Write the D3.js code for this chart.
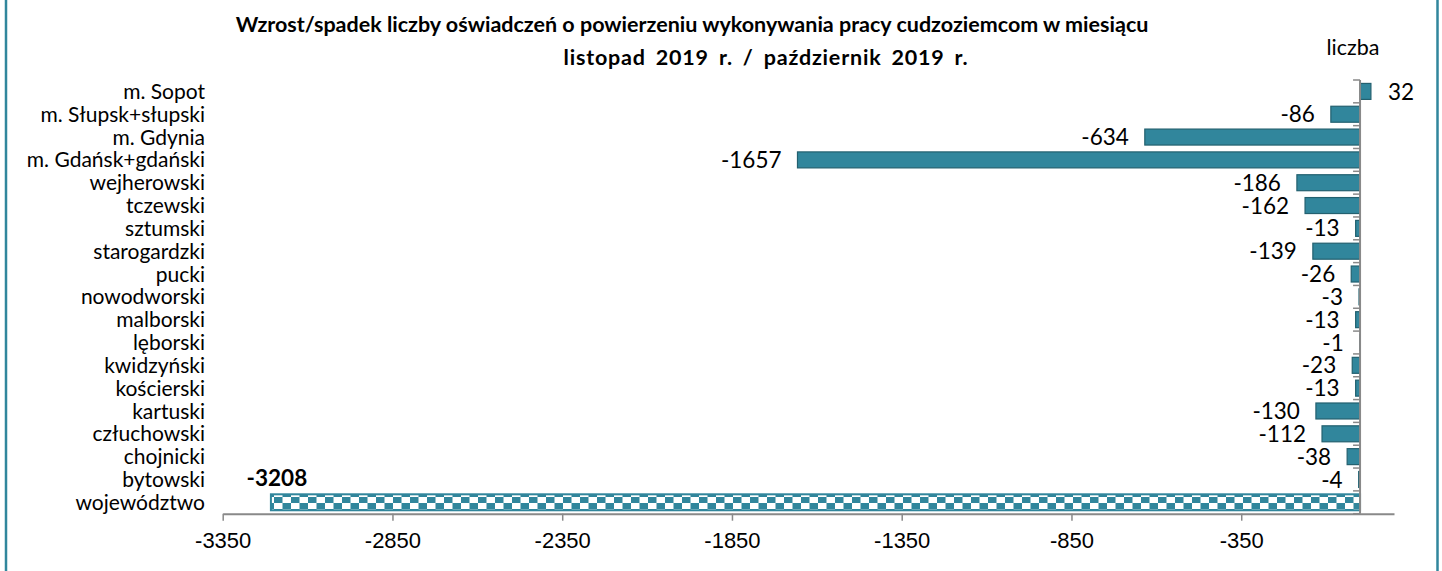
<!DOCTYPE html>
<html>
<head>
<meta charset="utf-8">
<script src="https://cdn.jsdelivr.net/npm/d3@7"></script>
<style>
  body { margin: 0; background: #fff; }
  svg { display: block; font-family: Lato, "Noto Sans", sans-serif; }
</style>
</head>
<body>
<script>
// categories top to bottom, and their values
var categories = ['m. Sopot', 'm. Słupsk+słupski', 'm. Gdynia', 'm. Gdańsk+gdański', 'wejherowski',
	'tczewski', 'sztumski', 'starogardzki', 'pucki', 'nowodworski', 'malborski', 'lęborski',
	'kwidzyński', 'kościerski', 'kartuski', 'człuchowski', 'chojnicki', 'bytowski', 'województwo'];
var values = [32, -86, -634, -1657, -186, -162, -13, -139, -26, -3, -13, -1, -23, -13, -130, -112, -38, -4, -3208];
var tickValues = [-3350, -2850, -2350, -1850, -1350, -850, -350];
var titleLines = ['Wzrost/spadek liczby oświadczeń o powierzeniu wykonywania pracy cudzoziemcom w miesiącu',
	'listopad 2019 r. / październik 2019 r.'];
var totalName = 'województwo';

var width = 1442, height = 571;
var teal = '#31869c', tealDark = '#23606f', axisGray = '#898989';

var svg = d3.select('body').append('svg')
	.attr('width', width)
	.attr('height', height);

// checkerboard pattern for the total bar
var pat = svg.append('defs').append('pattern')
	.attr('id', 'checks')
	.attr('patternUnits', 'userSpaceOnUse')
	.attr('width', 17).attr('height', 12)
	.attr('x', 2).attr('y', 497);
pat.append('rect').attr('width', 17).attr('height', 12).attr('fill', '#fff');
pat.append('rect').attr('x', 0).attr('y', 0).attr('width', 8.5).attr('height', 6).attr('fill', teal);
pat.append('rect').attr('x', 8.5).attr('y', 6).attr('width', 8.5).attr('height', 6).attr('fill', teal);

// frame lines left and right
svg.append('line').attr('x1', 6).attr('x2', 6).attr('y1', 0).attr('y2', height)
	.attr('stroke', teal).attr('stroke-width', 2.5);
svg.append('line').attr('x1', 1437.5).attr('x2', 1437.5).attr('y1', 0).attr('y2', height)
	.attr('stroke', teal).attr('stroke-width', 2.5);

// scales
var x = d3.scaleLinear().domain([-3350, 100]).range([222.7, 1394]);
var y = d3.scaleBand().domain(categories).range([80, 513.7]).paddingInner(0.3).paddingOuter(0.15);

// title
svg.append('text').attr('x', 692).attr('y', 32).attr('text-anchor', 'middle')
	.attr('font-weight', 'bold').attr('font-size', 21.5).text(titleLines[0]);
svg.append('text').attr('x', 766).attr('y', 65).attr('text-anchor', 'middle')
	.attr('font-weight', 'bold').attr('font-size', 21.5)
	.attr('letter-spacing', 0.8).attr('word-spacing', 4).text(titleLines[1]);
svg.append('text').attr('x', 1353).attr('y', 55).attr('text-anchor', 'middle')
	.attr('font-size', 21.5).text('liczba');

// bars
svg.append('g').selectAll('rect')
	.data(categories)
	.join('rect')
	.attr('x', function(d, i) { return x(Math.min(0, values[i])); })
	.attr('y', function(d) { return y(d); })
	.attr('width', function(d, i) { return Math.abs(x(values[i]) - x(0)); })
	.attr('height', y.bandwidth())
	.attr('fill', function(d) { return d === totalName ? 'url(#checks)' : teal; })
	.attr('stroke', function(d) { return d === totalName ? teal : tealDark; })
	.attr('stroke-width', function(d) { return d === totalName ? 2 : 1.2; });

// value labels
svg.append('g').selectAll('text')
	.data(categories)
	.join('text')
	.attr('x', function(d, i) {
		if (d === totalName) return x(values[i]) + 6;
		return values[i] < 0 ? x(values[i]) - 16 : x(values[i]) + 17;
	})
	.attr('y', function(d) { return d === totalName ? y(d) - 16 : y(d) + y.bandwidth() / 2; })
	.attr('dy', '0.36em')
	.attr('text-anchor', function(d, i) { return d === totalName ? 'middle' : (values[i] < 0 ? 'end' : 'start'); })
	.attr('font-size', 22.5)
	.attr('font-weight', function(d) { return d === totalName ? 'bold' : 'normal'; })
	.text(function(d, i) { return String(values[i]); });

// category labels
svg.append('g').selectAll('text')
	.data(categories)
	.join('text')
	.attr('x', 205)
	.attr('y', function(d) { return y(d) + y.bandwidth() / 2; })
	.attr('dy', '0.36em')
	.attr('text-anchor', 'end')
	.attr('font-size', 21)
	.text(function(d) { return d; });

// x axis
var xAxis = d3.axisBottom(x).tickValues(tickValues).tickSize(7).tickSizeOuter(0)
	.tickFormat(function(d) { return String(d); });
var gx = svg.append('g')
	.attr('transform', 'translate(0,' + 513.7 + ')')
	.call(xAxis);
gx.select('.domain').attr('stroke', axisGray).attr('stroke-width', 2);
gx.selectAll('.tick line').attr('stroke', axisGray).attr('stroke-width', 1.5);
gx.selectAll('.tick text').attr('fill', '#000').attr('font-size', 22).attr('font-family', null).attr('dy', '1.1em');

// y axis at zero with ticks on category boundaries
var step = y.step();
var bounds = d3.range(categories.length + 1).map(function(i) { return y.range()[0] + i * step; });
var gy = svg.append('g');
gy.selectAll('line.tk')
	.data(bounds)
	.join('line')
	.attr('class', 'tk')
	.attr('x1', x(0) - 7).attr('x2', x(0))
	.attr('y1', function(d) { return d; }).attr('y2', function(d) { return d; })
	.attr('stroke', axisGray).attr('stroke-width', 1.5);
gy.append('line')
	.attr('x1', x(0)).attr('x2', x(0))
	.attr('y1', y.range()[0]).attr('y2', y.range()[1])
	.attr('stroke', axisGray).attr('stroke-width', 2);
</script>
</body>
</html>
